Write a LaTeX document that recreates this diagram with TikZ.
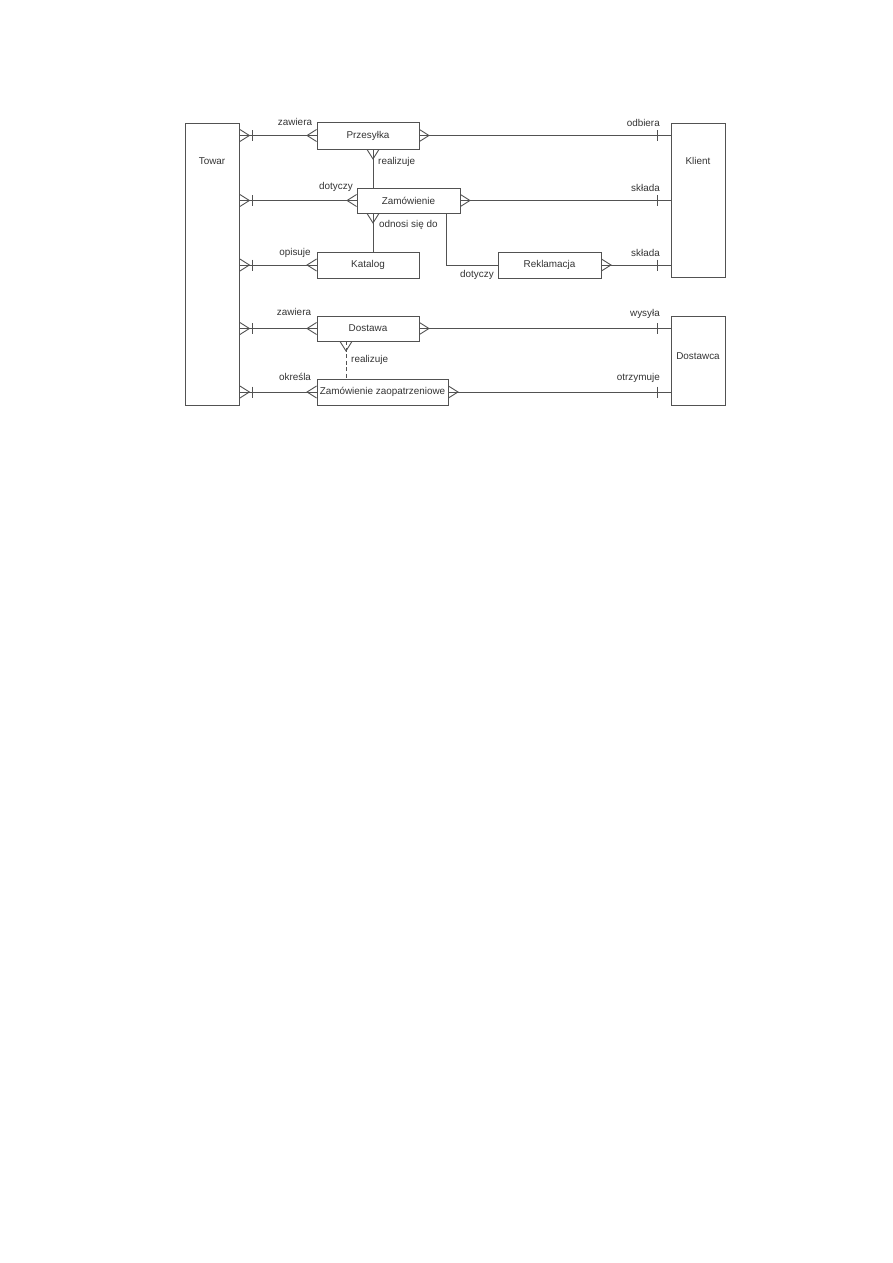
\documentclass[tikz,border=0pt]{standalone}
\usepackage{fontspec}
\setmainfont{Liberation Sans}
\begin{document}
\begin{tikzpicture}[x=1pt,y=-1pt,
  lc/.style={draw=black!68},
  conn/.style={lc,line width=0.9pt},
  ent/.style={lc,line width=0.9pt,rectangle,inner sep=0pt,text=black!80,font=\fontsize{9.9}{11}\selectfont},
  lbl/.style={inner sep=0pt,text=black!80,font=\fontsize{9.9}{11}\selectfont},
  crowR/.pic={\draw[conn] (0,-6) -- (9.5,0) -- (0,6);},
  crowL/.pic={\draw[conn] (0,-6) -- (-9.5,0) -- (0,6);},
  crowD/.pic={\draw[conn] (-6,0) -- (0,9.5) -- (6,0);},
  tick/.pic={\draw[conn] (0,-5.5) -- (0,5.5);}
]
\useasboundingbox (0,0) rectangle (893,1263);

% big entities
\node[ent,draw,minimum width=54pt,minimum height=282pt,anchor=north west] (towar) at (185,123) {};
\node[lbl] (towarT) at (212,161) {Towar};
\node[ent,draw,minimum width=54pt,minimum height=154pt,anchor=north west] (klient) at (671,123) {};
\node[lbl] (klientT) at (698,161) {Klient};
\node[ent,draw,minimum width=54pt,minimum height=89pt,anchor=north west] (dost) at (671,316) {};
\node[lbl] (dostT) at (698,356) {Dostawca};

% inner entities
\node[ent,draw,minimum width=102pt,minimum height=27pt] (przes) at (368,135.5) {Przesyłka};
\node[ent,draw,minimum width=103pt,minimum height=25pt] (zam) at (408.5,200.5) {Zamówienie};
\node[ent,draw,minimum width=102pt,minimum height=26pt] (kat) at (368,265) {Katalog};
\node[ent,draw,minimum width=103pt,minimum height=26pt] (rek) at (549.5,265) {Reklamacja};
\node[ent,draw,minimum width=102pt,minimum height=25pt] (dsta) at (368,328.5) {Dostawa};
\node[ent,draw,minimum width=131pt,minimum height=26pt] (zz) at (382.5,392) {Zamówienie zaopatrzeniowe};

\coordinate (v1) at (373,0);
\coordinate (v2) at (446,0);
\coordinate (v3) at (346,0);
\coordinate (tk) at (252,0);
\coordinate (tr) at (657,0);

% horizontal connectors Towar side
\foreach \n in {przes,zam,kat,dsta,zz}{
  \draw[conn] (towar.east |- \n.west) -- (\n.west);
  \pic at (towar.east |- \n.west) {crowR};
  \pic at (tk |- \n.west) {tick};
  \pic at (\n.west) {crowL};
}
% right side connectors
\draw[conn] (przes.east) -- (klient.west |- przes.east);
\pic at (przes.east) {crowR};
\pic at (tr |- przes.east) {tick};
\draw[conn] (zam.east) -- (klient.west |- zam.east);
\pic at (zam.east) {crowR};
\pic at (tr |- zam.east) {tick};
\draw[conn] (rek.east) -- (klient.west |- rek.east);
\pic at (rek.east) {crowR};
\pic at (tr |- rek.east) {tick};
\draw[conn] (dsta.east) -- (dost.west |- dsta.east);
\pic at (dsta.east) {crowR};
\pic at (tr |- dsta.east) {tick};
\draw[conn] (zz.east) -- (dost.west |- zz.east);
\pic at (zz.east) {crowR};
\pic at (tr |- zz.east) {tick};

% vertical connectors
\draw[conn] (przes.south -| v1) -- (zam.north -| v1);
\pic at (przes.south -| v1) {crowD};
\draw[conn] (zam.south -| v1) -- (kat.north -| v1);
\pic at (zam.south -| v1) {crowD};
\draw[conn] (zam.south -| v2) |- (rek.west);
\draw[conn,dashed,dash pattern=on 4pt off 2.5pt] (dsta.south -| v3) -- (zz.north -| v3);
\pic at (dsta.south -| v3) {crowD};

% labels
\node[lbl] (l1) at (295,122) {zawiera};
\node[lbl,anchor=east] (l2) at (660,123) {odbiera};
\node[lbl,anchor=west] (l3) at (378,162) {realizuje};
\node[lbl] (l4) at (336,187) {dotyczy};
\node[lbl,anchor=east] (l5) at (660,188) {składa};
\node[lbl,anchor=west] (l6) at (379,225) {odnosi się do};
\node[lbl] (l7) at (295,253) {opisuje};
\node[lbl] (l8) at (477,275) {dotyczy};
\node[lbl,anchor=east] (l9) at (660,253) {składa};
\node[lbl] (l10) at (294,312) {zawiera};
\node[lbl,anchor=east] (l11) at (660,314) {wysyła};
\node[lbl,anchor=west] (l12) at (351,360) {realizuje};
\node[lbl] (l13) at (295,377) {określa};
\node[lbl,anchor=east] (l14) at (660,378) {otrzymuje};
\end{tikzpicture}
\end{document}
